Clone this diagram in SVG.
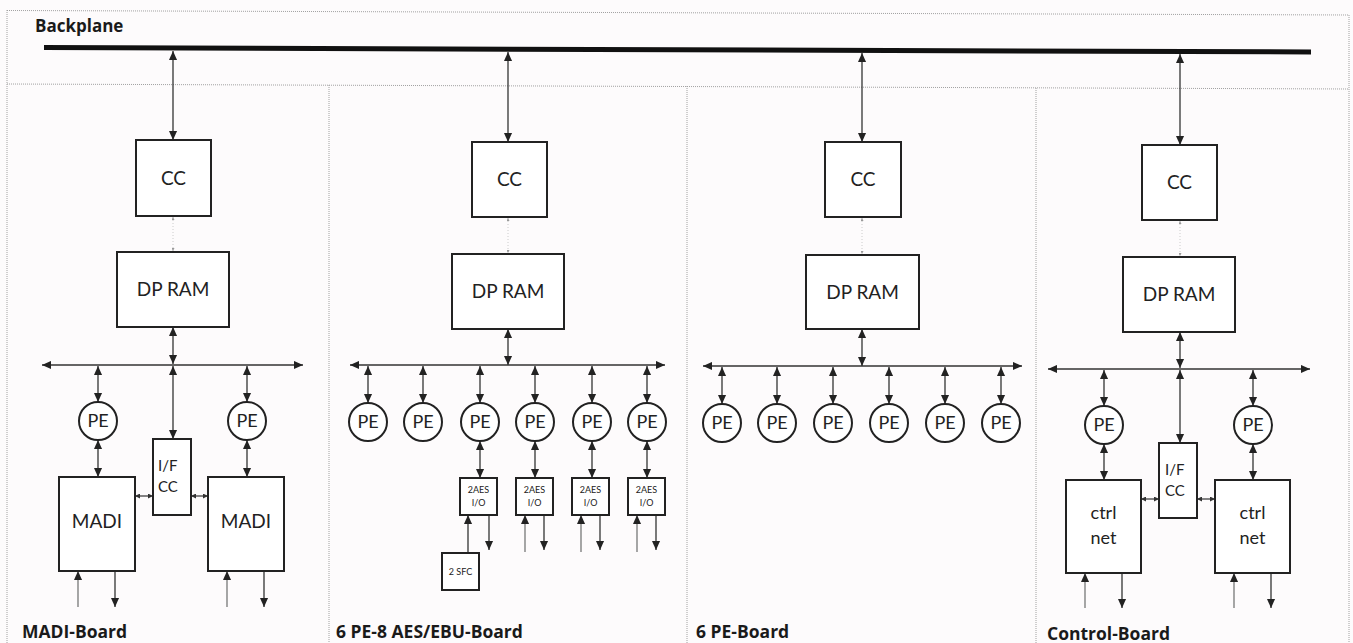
<svg xmlns="http://www.w3.org/2000/svg" width="1353" height="643" viewBox="0 0 1353 643">
<defs>
<marker id="a" viewBox="0 0 10 10" refX="10" refY="5" markerWidth="9" markerHeight="9" markerUnits="userSpaceOnUse" orient="auto-start-reverse"><path d="M0,0.5 L10,5 L0,9.5 z" fill="#222"/></marker>
<marker id="s" viewBox="0 0 10 10" refX="10" refY="5" markerWidth="5" markerHeight="5" markerUnits="userSpaceOnUse" orient="auto-start-reverse"><path d="M0,0 L10,5 L0,10 z" fill="#333"/></marker>
<marker id="f" viewBox="0 0 10 10" refX="10" refY="5" markerWidth="3" markerHeight="3" markerUnits="userSpaceOnUse" orient="auto-start-reverse"><path d="M0,0 L10,5 L0,10 z" fill="#999"/></marker>
</defs>
<style>
.frame{fill:none;stroke:#a0a0a0;stroke-width:1;stroke-dasharray:1 1}
.box{fill:#fff;stroke:#222;stroke-width:2}
.pe{fill:#fff;stroke:#222;stroke-width:2}
.t{font-family:Lato,"Open Sans",sans-serif;font-weight:400;fill:#222;text-anchor:middle}
.ts{font-family:Lato,"Open Sans",sans-serif;font-weight:400;fill:#222}
.lbl{font-family:"Open Sans",Lato,sans-serif;font-weight:700;fill:#1a1a1a}
.c{stroke:#333;stroke-width:1.3;fill:none}
.d{marker-start:url(#a);marker-end:url(#a)}
.e{marker-end:url(#a)}
.sm{stroke:#333;stroke-width:1.2;marker-start:url(#s);marker-end:url(#s)}
.fl{stroke:#ccc;stroke-width:1;stroke-dasharray:1 2;marker-start:url(#f);marker-end:url(#f)}
.up{stroke:#777}
</style>
<rect x="0" y="0" width="1353" height="643" fill="#fdfbfc"/>
<g id="frame">
<line class="frame" x1="7" y1="10.5" x2="1349" y2="15"/>
<line class="frame" x1="7" y1="84" x2="1349" y2="89"/>
<line class="frame" x1="7" y1="10" x2="7" y2="643"/>
<line class="frame" x1="1349" y1="15" x2="1349" y2="643"/>
<line class="frame" x1="329" y1="85" x2="329" y2="643"/>
<line class="frame" x1="687" y1="86" x2="687" y2="643"/>
<line class="frame" x1="1036" y1="88" x2="1036" y2="643"/>
</g>
<g id="backplane">
<line x1="44" y1="47.5" x2="1311" y2="52" stroke="#111" stroke-width="5"/>
<text class="lbl" x="35" y="32" font-size="17">Backplane</text>
</g>
<g id="connectors">
<line class="c d" x1="173" y1="51" x2="173" y2="140"/>
<line class="fl" x1="173" y1="217" x2="173" y2="251"/>
<line class="c d" x1="173" y1="327" x2="173" y2="364"/>
<line class="c d" x1="173" y1="366" x2="173" y2="439"/>
<line class="c d" x1="42" y1="365" x2="303" y2="365"/>
<line class="c d" x1="98" y1="366" x2="98" y2="402"/>
<line class="c d" x1="98" y1="440" x2="98" y2="477"/>
<line class="c d" x1="247" y1="366" x2="247" y2="402"/>
<line class="c d" x1="247" y1="440" x2="247" y2="477"/>
<line class="sm" x1="135" y1="496" x2="153" y2="496"/>
<line class="sm" x1="191" y1="496" x2="208" y2="496"/>
<line class="c e up" x1="78" y1="607" x2="78" y2="571"/>
<line class="c e" x1="115" y1="571" x2="115" y2="607"/>
<line class="c e up" x1="227" y1="607" x2="227" y2="571"/>
<line class="c e" x1="264" y1="571" x2="264" y2="607"/>
<line class="c d" x1="508" y1="52" x2="508" y2="142"/>
<line class="fl" x1="508" y1="218" x2="508" y2="253"/>
<line class="c d" x1="508" y1="329" x2="508" y2="365"/>
<line class="c d" x1="350" y1="365" x2="665" y2="365"/>
<line class="c d" x1="368" y1="366" x2="368" y2="403"/>
<line class="c d" x1="423" y1="366" x2="423" y2="403"/>
<line class="c d" x1="480" y1="366" x2="480" y2="403"/>
<line class="c d" x1="535" y1="366" x2="535" y2="403"/>
<line class="c d" x1="592" y1="366" x2="592" y2="403"/>
<line class="c d" x1="647" y1="366" x2="647" y2="403"/>
<line class="c d" x1="480" y1="441" x2="480" y2="478"/>
<line class="c d" x1="535" y1="441" x2="535" y2="478"/>
<line class="c d" x1="592" y1="441" x2="592" y2="478"/>
<line class="c d" x1="647" y1="441" x2="647" y2="478"/>
<line class="c e" x1="468" y1="553" x2="468" y2="515"/>
<line class="c e" x1="489" y1="515" x2="489" y2="550"/>
<line class="c e up" x1="525" y1="552" x2="525" y2="515"/>
<line class="c e" x1="544" y1="515" x2="544" y2="550"/>
<line class="c e up" x1="581" y1="552" x2="581" y2="515"/>
<line class="c e" x1="600" y1="515" x2="600" y2="550"/>
<line class="c e up" x1="637" y1="552" x2="637" y2="515"/>
<line class="c e" x1="656" y1="515" x2="656" y2="550"/>
<line class="c d" x1="862" y1="53" x2="862" y2="142"/>
<line class="fl" x1="862" y1="218" x2="862" y2="254"/>
<line class="c d" x1="862" y1="329" x2="862" y2="366"/>
<line class="c d" x1="703" y1="366" x2="1022" y2="366"/>
<line class="c d" x1="722" y1="367" x2="722" y2="404"/>
<line class="c d" x1="777" y1="367" x2="777" y2="404"/>
<line class="c d" x1="833" y1="367" x2="833" y2="404"/>
<line class="c d" x1="889" y1="367" x2="889" y2="404"/>
<line class="c d" x1="945" y1="367" x2="945" y2="404"/>
<line class="c d" x1="1001" y1="367" x2="1001" y2="404"/>
<line class="c d" x1="1180" y1="54" x2="1180" y2="145"/>
<line class="fl" x1="1180" y1="221" x2="1180" y2="256"/>
<line class="c d" x1="1180" y1="332" x2="1180" y2="368"/>
<line class="c d" x1="1180" y1="370" x2="1180" y2="443"/>
<line class="c d" x1="1048" y1="369" x2="1310" y2="369"/>
<line class="c d" x1="1104" y1="370" x2="1104" y2="406"/>
<line class="c d" x1="1104" y1="444" x2="1104" y2="480"/>
<line class="c d" x1="1253" y1="370" x2="1253" y2="406"/>
<line class="c d" x1="1253" y1="444" x2="1253" y2="480"/>
<line class="sm" x1="1141" y1="499" x2="1159" y2="499"/>
<line class="sm" x1="1197" y1="499" x2="1215" y2="499"/>
<line class="c e up" x1="1085" y1="608" x2="1085" y2="573"/>
<line class="c e" x1="1122" y1="573" x2="1122" y2="608"/>
<line class="c e up" x1="1234" y1="608" x2="1234" y2="573"/>
<line class="c e" x1="1271" y1="573" x2="1271" y2="608"/>
</g>
<g id="madi-cc"><rect class="box" x="136" y="140" width="75" height="76"/><text class="t" x="173.5" y="185" font-size="19">CC</text></g>
<g id="madi-dpram"><rect class="box" x="117" y="252" width="112" height="75"/><text class="t" x="173" y="296" font-size="19">DP RAM</text></g>
<g id="madi-pe1"><circle class="pe" cx="98" cy="421" r="19"/><text class="t" x="98" y="427" font-size="18">PE</text></g>
<g id="madi-pe2"><circle class="pe" cx="247" cy="421" r="19"/><text class="t" x="247" y="427" font-size="18">PE</text></g>
<g id="madi-ifcc"><rect class="box" x="153" y="439" width="38" height="76"/><text class="ts" x="158" y="471" font-size="15">I/F</text><text class="ts" x="158" y="492" font-size="15">CC</text></g>
<g id="madi-1"><rect class="box" x="59" y="477" width="76" height="94"/><text class="t" x="97" y="528" font-size="19">MADI</text></g>
<g id="madi-2"><rect class="box" x="208" y="477" width="76" height="94"/><text class="t" x="246" y="528" font-size="19">MADI</text></g>
<g id="madi-label"><text class="lbl" x="22" y="638" font-size="17.5">MADI-Board</text></g>
<g id="aes-cc"><rect class="box" x="472" y="142" width="75" height="75"/><text class="t" x="509.5" y="186" font-size="19">CC</text></g>
<g id="aes-dpram"><rect class="box" x="452" y="254" width="112" height="75"/><text class="t" x="508" y="298" font-size="19">DP RAM</text></g>
<g id="aes-pe1"><circle class="pe" cx="368" cy="422" r="19"/><text class="t" x="368" y="428" font-size="18">PE</text></g>
<g id="aes-pe2"><circle class="pe" cx="423" cy="422" r="19"/><text class="t" x="423" y="428" font-size="18">PE</text></g>
<g id="aes-pe3"><circle class="pe" cx="480" cy="422" r="19"/><text class="t" x="480" y="428" font-size="18">PE</text></g>
<g id="aes-pe4"><circle class="pe" cx="535" cy="422" r="19"/><text class="t" x="535" y="428" font-size="18">PE</text></g>
<g id="aes-pe5"><circle class="pe" cx="592" cy="422" r="19"/><text class="t" x="592" y="428" font-size="18">PE</text></g>
<g id="aes-pe6"><circle class="pe" cx="647" cy="422" r="19"/><text class="t" x="647" y="428" font-size="18">PE</text></g>
<g id="aes-io1"><rect class="box" x="460" y="478" width="37" height="37"/><text class="t" x="478.5" y="493" font-size="9">2AES</text><text class="t" x="478.5" y="506" font-size="9">I/O</text></g>
<g id="aes-io2"><rect class="box" x="516" y="478" width="37" height="37"/><text class="t" x="534.5" y="493" font-size="9">2AES</text><text class="t" x="534.5" y="506" font-size="9">I/O</text></g>
<g id="aes-io3"><rect class="box" x="572" y="478" width="37" height="37"/><text class="t" x="590.5" y="493" font-size="9">2AES</text><text class="t" x="590.5" y="506" font-size="9">I/O</text></g>
<g id="aes-io4"><rect class="box" x="628" y="478" width="37" height="37"/><text class="t" x="646.5" y="493" font-size="9">2AES</text><text class="t" x="646.5" y="506" font-size="9">I/O</text></g>
<g id="aes-sfc"><rect class="box" x="442" y="553" width="37" height="37"/><text class="t" x="460.5" y="575" font-size="9">2 SFC</text></g>
<g id="aes-label"><text class="lbl" x="336" y="638" font-size="17.5">6 PE-8 AES/EBU-Board</text></g>
<g id="pe-cc"><rect class="box" x="825" y="142" width="76" height="75"/><text class="t" x="863" y="186" font-size="19">CC</text></g>
<g id="pe-dpram"><rect class="box" x="806" y="255" width="113" height="74"/><text class="t" x="862.5" y="299" font-size="19">DP RAM</text></g>
<g id="pe-pe1"><circle class="pe" cx="722" cy="423" r="19"/><text class="t" x="722" y="429" font-size="18">PE</text></g>
<g id="pe-pe2"><circle class="pe" cx="777" cy="423" r="19"/><text class="t" x="777" y="429" font-size="18">PE</text></g>
<g id="pe-pe3"><circle class="pe" cx="833" cy="423" r="19"/><text class="t" x="833" y="429" font-size="18">PE</text></g>
<g id="pe-pe4"><circle class="pe" cx="889" cy="423" r="19"/><text class="t" x="889" y="429" font-size="18">PE</text></g>
<g id="pe-pe5"><circle class="pe" cx="945" cy="423" r="19"/><text class="t" x="945" y="429" font-size="18">PE</text></g>
<g id="pe-pe6"><circle class="pe" cx="1001" cy="423" r="19"/><text class="t" x="1001" y="429" font-size="18">PE</text></g>
<g id="pe-label"><text class="lbl" x="696" y="638" font-size="17.5">6 PE-Board</text></g>
<g id="ctl-cc"><rect class="box" x="1142" y="145" width="75" height="75"/><text class="t" x="1179.5" y="189" font-size="19">CC</text></g>
<g id="ctl-dpram"><rect class="box" x="1123" y="257" width="112" height="75"/><text class="t" x="1179" y="301" font-size="19">DP RAM</text></g>
<g id="ctl-pe1"><circle class="pe" cx="1104" cy="425" r="19"/><text class="t" x="1104" y="431" font-size="18">PE</text></g>
<g id="ctl-pe2"><circle class="pe" cx="1253" cy="425" r="19"/><text class="t" x="1253" y="431" font-size="18">PE</text></g>
<g id="ctl-ifcc"><rect class="box" x="1159" y="443" width="38" height="75"/><text class="ts" x="1165" y="475" font-size="15">I/F</text><text class="ts" x="1165" y="496" font-size="15">CC</text></g>
<g id="ctl-net1"><rect class="box" x="1066" y="480" width="75" height="93"/><text class="t" x="1103.5" y="519" font-size="18">ctrl</text><text class="t" x="1103.5" y="544" font-size="18">net</text></g>
<g id="ctl-net2"><rect class="box" x="1215" y="480" width="75" height="93"/><text class="t" x="1252.5" y="519" font-size="18">ctrl</text><text class="t" x="1252.5" y="544" font-size="18">net</text></g>
<g id="ctl-label"><text class="lbl" x="1047" y="640" font-size="17.5">Control-Board</text></g>
</svg>
